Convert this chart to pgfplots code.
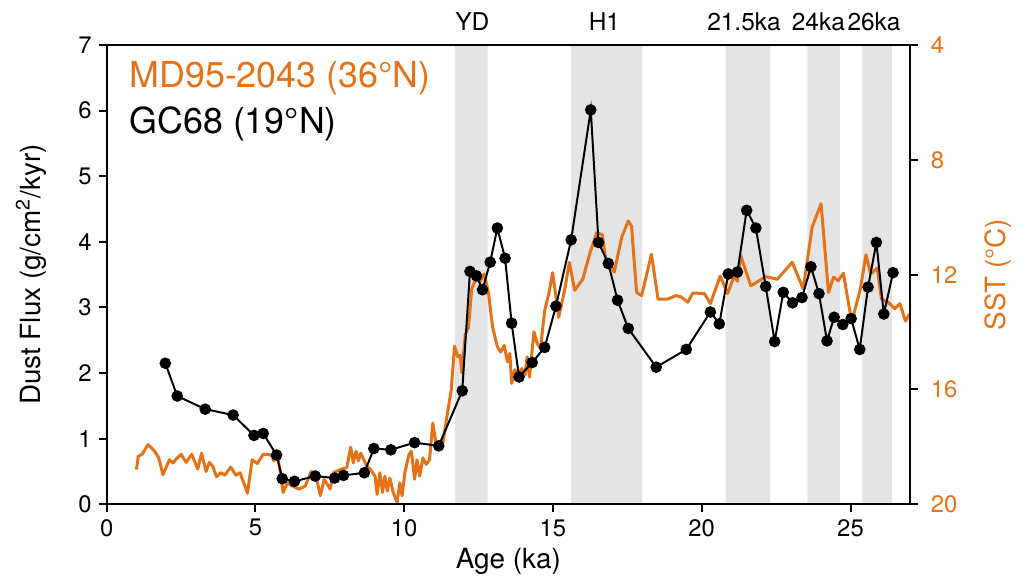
\documentclass[border=0pt]{standalone}
\usepackage{fontspec}
\setmainfont{TeX Gyre Heros}
\usepackage{pgfplots}
\usepackage{pgfplotstable}
\pgfplotsset{compat=1.18}
\definecolor{sstorange}{RGB}{229,114,23}
\definecolor{band}{RGB}{228,228,228}

\pgfplotstableread{
age sst
1.00 18.79
1.06 18.33
1.19 18.26
1.39 17.92
1.61 18.15
1.75 18.38
1.89 18.97
2.11 18.45
2.23 18.56
2.34 18.42
2.50 18.26
2.67 18.54
2.86 18.26
3.06 18.77
3.19 18.22
3.34 18.86
3.45 18.54
3.56 18.67
3.69 19.04
3.84 18.90
3.97 18.99
4.17 18.70
4.34 18.99
4.48 18.90
4.73 19.61
4.89 18.45
5.06 18.58
5.26 18.26
5.45 18.26
5.56 18.33
5.62 18.49
5.73 18.26
5.84 18.90
5.93 19.59
6.07 19.25
6.23 19.36
6.46 19.47
6.68 19.36
6.87 18.86
7.01 18.90
7.18 19.70
7.31 19.13
7.51 19.47
7.62 18.90
7.85 18.79
8.07 18.72
8.20 18.01
8.29 18.56
8.38 18.15
8.46 18.49
8.54 18.22
8.74 18.67
8.87 18.79
9.02 19.02
9.09 19.66
9.18 18.90
9.27 19.59
9.35 19.02
9.43 19.54
9.52 19.09
9.63 19.59
9.76 19.93
9.85 19.25
9.93 19.70
10.02 18.90
10.16 18.26
10.24 18.15
10.35 19.13
10.43 18.45
10.52 19.02
10.63 18.38
10.74 18.61
10.85 18.45
10.96 17.17
11.05 17.76
11.19 17.99
11.30 17.87
11.46 16.78
11.58 16.02
11.69 14.49
11.80 14.86
11.88 14.81
11.94 15.43
12.05 14.10
12.16 13.83
12.27 12.50
12.43 12.07
12.54 12.27
12.69 11.98
12.83 12.62
12.97 13.83
13.13 14.51
13.24 14.70
13.36 14.47
13.47 15.04
13.55 14.74
13.61 15.79
13.72 15.31
13.83 15.50
13.95 15.27
14.06 15.50
14.13 14.86
14.21 15.57
14.36 13.99
14.47 14.40
14.58 14.58
14.72 13.26
14.86 12.66
14.99 11.93
15.19 13.49
15.39 12.55
15.55 11.57
15.73 12.55
16.00 12.16
16.25 11.22
16.47 10.54
16.66 10.61
16.81 11.75
16.92 11.63
17.06 11.91
17.31 10.70
17.53 10.13
17.64 10.31
17.81 12.62
17.98 12.73
18.31 11.29
18.53 12.85
18.86 12.85
19.14 12.73
19.31 12.78
19.53 12.96
19.70 12.64
20.09 12.66
20.29 13.01
20.62 12.05
20.87 12.66
21.09 12.05
21.20 12.23
21.31 11.34
21.65 12.39
22.15 12.07
22.54 12.16
23.04 11.57
23.41 12.50
23.71 10.35
24.01 9.53
24.26 12.62
24.43 12.09
24.59 12.21
24.76 11.95
25.04 13.65
25.32 12.55
25.52 11.31
25.68 11.98
25.90 11.77
26.04 12.85
26.27 12.96
26.49 13.19
26.66 13.01
26.85 13.62
26.98 13.37
}\sstdata

\pgfplotstableread{
age flux
1.97 2.15
2.37 1.65
3.31 1.45
4.25 1.36
4.95 1.05
5.26 1.08
5.71 0.75
5.90 0.39
6.31 0.35
7.01 0.43
7.66 0.40
7.96 0.44
8.66 0.48
8.98 0.85
9.55 0.83
10.35 0.94
11.16 0.89
11.95 1.73
12.21 3.55
12.43 3.48
12.63 3.27
12.89 3.69
13.13 4.21
13.39 3.75
13.61 2.76
13.86 1.94
14.30 2.16
14.72 2.39
15.10 3.02
15.61 4.03
16.27 6.01
16.53 3.99
16.86 3.67
17.17 3.11
17.53 2.68
18.47 2.09
19.48 2.36
20.29 2.93
20.59 2.75
20.89 3.51
21.20 3.54
21.51 4.48
21.82 4.21
22.15 3.32
22.45 2.48
22.74 3.23
23.05 3.07
23.37 3.15
23.67 3.62
23.94 3.21
24.21 2.49
24.45 2.85
24.74 2.74
25.02 2.83
25.31 2.36
25.59 3.31
25.87 3.99
26.12 2.90
26.43 3.53
}\fluxdata

\begin{document}
\begin{tikzpicture}
% SST axis (right), with bands and orange line
\begin{axis}[
  scale only axis, width=404pt, height=231pt,
  xmin=0, xmax=27, ymin=4, ymax=20, y dir=reverse,
  axis x line=none,
  axis y line*=right,
  axis line style={line width=1pt, black},
  ytick={4,8,12,16,20},
  tick align=outside,
  major tick length=4pt,
  every tick/.style={black, line width=1pt},
  yticklabel style={text=sstorange, font=\fontsize{12}{13}\selectfont, xshift=3pt},
  /pgf/number format/assume math mode=true,
  ylabel={SST (°C)},
  ylabel style={text=sstorange, font=\fontsize{14}{16}\selectfont, inner ysep=8pt, yshift=-2pt},
]
\addplot[fill=band, draw=none] coordinates {(11.7,4) (12.8,4) (12.8,20) (11.7,20)} \closedcycle;
\addplot[fill=band, draw=none] coordinates {(15.6,4) (18.0,4) (18.0,20) (15.6,20)} \closedcycle;
\addplot[fill=band, draw=none] coordinates {(20.8,4) (22.3,4) (22.3,20) (20.8,20)} \closedcycle;
\addplot[fill=band, draw=none] coordinates {(23.55,4) (24.65,4) (24.65,20) (23.55,20)} \closedcycle;
\addplot[fill=band, draw=none] coordinates {(25.4,4) (26.4,4) (26.4,20) (25.4,20)} \closedcycle;
\addplot[sstorange, line width=1.5pt, line join=round] table[x=age, y=sst] {\sstdata};
\end{axis}
% Flux axis (left), black series
\begin{axis}[
  scale only axis, width=404pt, height=231pt,
  xmin=0, xmax=27, ymin=0, ymax=7,
  axis line style={line width=1pt, black},
  xtick={0,5,10,15,20,25},
  ytick={0,1,2,3,4,5,6,7},
  xtick pos=bottom, ytick pos=left,
  tick align=outside,
  major tick length=4pt,
  every tick/.style={black, line width=1pt},
  ticklabel style={font=\fontsize{12}{13}\selectfont},
  /pgf/number format/assume math mode=true,
  xlabel={Age (ka)},
  ylabel={Dust Flux (g/cm\textsuperscript{2}/kyr)},
  label style={font=\fontsize{14}{16}\selectfont},
  ylabel style={inner ysep=8pt, yshift=4.7pt},
  xlabel style={yshift=1pt},
  clip=false,
]
\addplot[black, line width=1pt, mark=*, mark size=2.4pt, mark options={fill=black}] table[x=age, y=flux] {\fluxdata};
\node[anchor=west, text=sstorange, font=\fontsize{18}{20}\selectfont, inner sep=0pt] at (rel axis cs:0.028,0.928) {MD95-2043 (36°N)};
\node[anchor=west, text=black, font=\fontsize{18}{20}\selectfont, inner sep=0pt] at (rel axis cs:0.028,0.828) {GC68 (19°N)};
\node[font=\fontsize{12.3}{14}\selectfont, inner ysep=6.5pt] at (axis cs:12.29,7.35) {YD};
\node[font=\fontsize{12.3}{14}\selectfont, inner ysep=6.5pt] at (axis cs:16.73,7.35) {H1};
\node[font=\fontsize{12.3}{14}\selectfont, inner ysep=6.5pt] at (axis cs:21.42,7.35) {21.5ka};
\node[font=\fontsize{12.3}{14}\selectfont, inner ysep=6.5pt] at (axis cs:23.92,7.35) {24ka};
\node[font=\fontsize{12.3}{14}\selectfont, inner ysep=6.5pt] at (axis cs:25.79,7.35) {26ka};
\end{axis}
\end{tikzpicture}
\end{document}
